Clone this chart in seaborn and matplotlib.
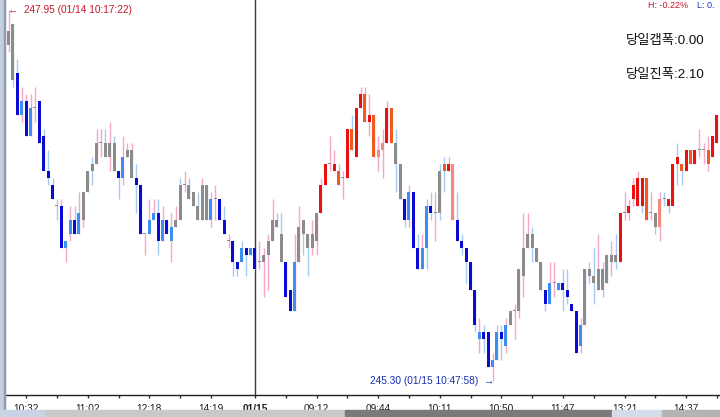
import matplotlib
matplotlib.use("Agg")

import matplotlib.pyplot as plt
from matplotlib.patches import Rectangle
import seaborn as sns
import pandas as pd
import numpy as np

# ---------------------------------------------------------------------------
# Dados (candles de 1 minuto agregados, dois pregões)
# ---------------------------------------------------------------------------
opens = [
    247.80, 247.85, 247.50, 247.30, 247.30, 247.25, 247.25, 247.30, 247.05, 246.80,
    246.70, 246.55, 246.55, 246.30, 246.45, 246.45, 246.50, 246.45, 246.65, 246.80,
    246.85, 247.00, 246.90, 246.90, 247.00, 246.80, 246.90, 246.90, 246.95, 246.75,
    246.70, 246.35, 246.45, 246.50, 246.50, 246.45, 246.45, 246.40, 246.40, 246.45,
    246.70, 246.70, 246.65, 246.55, 246.45, 246.70, 246.60, 246.60, 246.60, 246.45,
    246.30, 246.30, 246.15, 246.25, 246.25, 246.25, 246.25, 246.15, 246.15, 246.20,
    246.30, 246.40, 246.35, 246.15, 245.95, 246.15, 246.15, 246.35, 246.35, 246.25,
    246.30, 246.50, 246.70, 246.85, 246.80, 246.70, 246.75, 246.75, 247.10, 246.90,
    247.25, 247.35, 247.15, 247.20, 246.95, 246.95, 247.00, 247.25, 247.00, 246.85,
    246.60, 246.65, 246.65, 246.25, 246.25, 246.55, 246.55, 246.50, 246.50, 246.80,
    246.80, 246.85, 246.45, 246.30, 246.25, 246.15, 245.95, 245.65, 245.65, 245.65,
    245.45, 245.65, 245.65, 245.70, 245.70, 245.80, 245.80, 246.05, 246.25, 246.35,
    246.25, 246.15, 245.95, 246.00, 246.00, 246.00, 246.00, 245.95, 245.85, 245.80,
    245.70, 245.70, 246.10, 246.05, 245.95, 246.10, 246.00, 246.20, 246.15, 246.15,
    246.50, 246.50, 246.60, 246.55, 246.55, 246.75, 246.50, 246.50, 246.60, 246.60,
    246.55, 246.55, 246.85, 246.85, 246.80, 246.95, 246.85, 246.95, 246.95, 246.95,
    246.90, 247.00,
]
highs = [
    247.95, 247.85, 247.60, 247.40, 247.35, 247.35, 247.40, 247.30, 247.10, 246.95,
    246.75, 246.60, 246.60, 246.30, 246.55, 246.55, 246.65, 246.65, 246.80, 246.90,
    247.10, 247.10, 247.10, 247.15, 247.05, 246.80, 247.05, 247.00, 247.00, 246.85,
    246.70, 246.35, 246.60, 246.60, 246.60, 246.55, 246.45, 246.50, 246.55, 246.75,
    246.80, 246.75, 246.65, 246.65, 246.75, 246.70, 246.65, 246.70, 246.60, 246.55,
    246.35, 246.30, 246.15, 246.30, 246.25, 246.25, 246.25, 246.30, 246.25, 246.35,
    246.60, 246.50, 246.50, 246.15, 245.95, 246.35, 246.55, 246.45, 246.35, 246.45,
    246.50, 246.75, 246.85, 247.05, 246.95, 246.85, 246.80, 247.10, 247.20, 247.25,
    247.40, 247.40, 247.35, 247.20, 247.05, 247.10, 247.30, 247.25, 247.10, 246.85,
    246.60, 246.70, 246.65, 246.35, 246.35, 246.60, 246.65, 246.65, 246.85, 246.90,
    246.90, 246.85, 246.65, 246.35, 246.25, 246.15, 245.95, 245.75, 245.70, 245.65,
    245.50, 245.70, 245.70, 245.75, 245.80, 245.85, 246.10, 246.50, 246.50, 246.40,
    246.25, 246.15, 245.95, 246.15, 246.15, 246.00, 246.10, 246.10, 245.85, 245.80,
    245.75, 246.10, 246.15, 246.25, 246.35, 246.15, 246.20, 246.30, 246.35, 246.50,
    246.65, 246.60, 246.75, 246.80, 246.75, 246.75, 246.65, 246.50, 246.65, 246.65,
    246.60, 246.85, 247.00, 246.85, 246.95, 246.95, 246.95, 247.10, 247.00, 247.05,
    247.05, 247.20,
]
lows = [
    247.65, 247.40, 247.20, 247.15, 247.05, 247.05, 247.15, 247.00, 246.80, 246.70,
    246.60, 246.45, 246.25, 246.15, 246.30, 246.35, 246.35, 246.40, 246.65, 246.70,
    246.85, 246.90, 246.90, 246.80, 246.80, 246.60, 246.70, 246.90, 246.75, 246.50,
    246.35, 246.20, 246.35, 246.45, 246.20, 246.30, 246.35, 246.15, 246.40, 246.45,
    246.65, 246.60, 246.55, 246.45, 246.45, 246.45, 246.40, 246.45, 246.45, 246.35,
    246.25, 246.05, 246.05, 246.15, 246.05, 246.20, 246.10, 246.10, 245.90, 245.95,
    246.30, 246.40, 246.15, 245.90, 245.80, 245.80, 246.15, 246.20, 246.05, 246.20,
    246.20, 246.50, 246.70, 246.80, 246.80, 246.70, 246.60, 246.75, 246.95, 246.90,
    247.25, 247.15, 247.05, 246.90, 246.80, 246.75, 247.00, 247.00, 246.65, 246.60,
    246.40, 246.40, 246.25, 246.10, 246.10, 246.10, 246.45, 246.30, 246.45, 246.65,
    246.80, 246.45, 246.30, 246.20, 246.00, 245.95, 245.65, 245.50, 245.50, 245.40,
    245.30, 245.45, 245.45, 245.50, 245.70, 245.60, 245.75, 245.90, 246.25, 246.15,
    246.15, 245.95, 245.80, 245.85, 245.90, 245.95, 245.80, 245.85, 245.80, 245.50,
    245.50, 245.70, 246.00, 245.85, 245.95, 245.90, 246.00, 246.05, 246.10, 246.15,
    246.45, 246.45, 246.55, 246.55, 246.50, 246.45, 246.45, 246.35, 246.30, 246.55,
    246.50, 246.55, 246.70, 246.70, 246.80, 246.85, 246.85, 246.90, 246.85, 246.80,
    246.90, 247.00,
]
closes = [
    247.70, 247.45, 247.20, 247.20, 247.05, 247.05, 247.25, 247.00, 246.80, 246.75,
    246.60, 246.55, 246.25, 246.25, 246.35, 246.35, 246.35, 246.65, 246.80, 246.85,
    247.00, 247.00, 247.00, 247.00, 246.80, 246.75, 246.75, 246.95, 246.75, 246.70,
    246.35, 246.35, 246.35, 246.45, 246.30, 246.30, 246.35, 246.30, 246.45, 246.70,
    246.70, 246.60, 246.55, 246.45, 246.70, 246.45, 246.45, 246.60, 246.45, 246.35,
    246.30, 246.15, 246.10, 246.15, 246.20, 246.20, 246.10, 246.15, 246.20, 246.30,
    246.45, 246.45, 246.15, 245.90, 245.80, 245.80, 246.40, 246.45, 246.25, 246.35,
    246.50, 246.70, 246.85, 246.85, 246.85, 246.80, 246.75, 247.10, 246.95, 247.25,
    247.35, 247.15, 247.20, 246.90, 246.90, 247.00, 247.25, 247.00, 246.85, 246.60,
    246.45, 246.45, 246.25, 246.10, 246.10, 246.25, 246.50, 246.50, 246.80, 246.85,
    246.85, 246.45, 246.30, 246.25, 246.15, 245.95, 245.70, 245.60, 245.60, 245.40,
    245.40, 245.45, 245.60, 245.55, 245.80, 245.80, 246.10, 246.25, 246.35, 246.25,
    246.15, 245.95, 245.85, 245.85, 246.00, 245.95, 245.95, 245.90, 245.80, 245.50,
    245.55, 246.10, 246.05, 246.00, 246.10, 245.95, 246.20, 246.15, 246.20, 246.50,
    246.50, 246.55, 246.70, 246.75, 246.75, 246.45, 246.50, 246.40, 246.40, 246.60,
    246.60, 246.85, 246.90, 246.80, 246.95, 246.85, 246.95, 246.95, 246.95, 246.85,
    247.05, 247.20,
]
# cor do corpo: D azul escuro, B azul claro, G cinza, R vermelho, O laranja, S salmão
body_codes = (
    "GGDBDBGDDD" "DGDBBDBGGG" "GGGGGDBGGD" "DGBBDBDBGG" "GGGGGGBGDD"
    "GDDBDBDGGG" "GGGDDBGGGG" "GRRGROGROR" "ROROSSROGG" "DBDDBBDGGO"
    "RSDDDDDBDD" "BBDBGGGGGG" "GGDBGBDDDD" "BGGGGGGGGR" "GRRRROGGSG"
    "RRRORORGGO" "RR"
)
# cor do pavio: P rosa, L azul claro
wick_codes = (
    "PLLPPPPLLL" "LLPPPLPPLL" "PPLPLLPPPL" "LPPPLPLPPL" "PLLLPLPPLL"
    "PLLLLLLPPP" "PLLLLPPLLP" "PPPPPLPPLP" "PPPPPPPPLL" "LPLLPLLPLL"
    "PPLLLLLPLL" "PLLPLPPPPL" "LLLPPLLLLL" "PLLLPLLPLL" "PPPPLLPLPL"
    "LPLLPPPPPP" "PL"
)

tick_pos = [4, 18, 32, 46, 56, 70, 84, 98, 112, 126, 140, 154]
tick_labels = ["10:32", "11:02", "12:18", "14:19", "01/15", "09:12",
               "09:44", "10:11", "10:50", "11:47", "13:21", "14:37"]
minor_pos = [11, 25, 39, 63, 77, 91, 105, 119, 133, 147, 161]
day_break = 56

high_text = "←  247.95 (01/14 10:17:22)"
low_text = "245.30 (01/15 10:47:58)  →"
gap_text = "당일갭폭:0.00"
range_text = "당일진폭:2.10"

BODY_COLORS = {"D": "#0a0ad2", "B": "#3b8ff0", "G": "#8c8c8c",
               "R": "#e81010", "O": "#f05a1e", "S": "#f28a80"}
WICK_COLORS = {"P": "#f4a8c8", "L": "#a6cbf2"}

# ---------------------------------------------------------------------------
# Figura
# ---------------------------------------------------------------------------
sns.set_theme(style="white")
plt.rcParams["font.family"] = ["Liberation Sans", "Noto Sans CJK KR", "DejaVu Sans"]

df = pd.DataFrame({"open": opens, "high": highs, "low": lows, "close": closes,
                   "body": list(body_codes), "wick": list(wick_codes)})
df["x"] = np.arange(len(df))
df["bottom"] = df[["open", "close"]].min(axis=1)
df["height"] = (df["close"] - df["open"]).abs().clip(lower=0.008)

W, H = 720, 417
fig = plt.figure(figsize=(W / 100, H / 100), dpi=100)
ax = fig.add_axes([6 / W, 22 / H, 1 - 6 / W, 1 - 22 / H])

ax.vlines(df["x"], df["low"], df["high"],
          colors=[WICK_COLORS[c] for c in df["wick"]], linewidth=1.0, zorder=1)
ax.bar(df["x"], df["height"], bottom=df["bottom"], width=0.7,
       color=[BODY_COLORS[c] for c in df["body"]], linewidth=0, zorder=2)

ax.axvline(day_break, color="#3a3a3a", linewidth=1.0, zorder=0)

ax.set_xlim(-0.57, 161.7)
ax.set_ylim(245.20, 248.021)
ax.set_yticks([])
ax.set_xticks(tick_pos)
ax.set_xticklabels(tick_labels, fontsize=7.3, color="#202020")
ax.set_xticks(minor_pos, minor=True)
ax.tick_params(axis="x", which="both", direction="out", length=2.5, width=1,
               color="#303030", pad=4, bottom=True)
for lab in ax.get_xticklabels():
    if lab.get_text() == "01/15":
        lab.set_fontweight("bold")

sns.despine(ax=ax, left=True, right=True, top=True)
ax.spines["bottom"].set_color("#202020")
ax.spines["bottom"].set_linewidth(1.0)

# anotações de máxima e mínima
ax.text(-0.12, 247.95, high_text, fontsize=7.3, color="#c0182a",
        ha="left", va="center")
ax.text(110.3, 245.30, low_text, fontsize=7.3, color="#1830b0",
        ha="right", va="center")

fig.text(626 / W, 1 - 41 / H, gap_text, fontsize=9.6, color="#101010", va="center")
fig.text(626 / W, 1 - 75 / H, range_text, fontsize=9.6, color="#101010", va="center")
fig.text(648 / W, 1 - 6 / H, "H: -0.22%", fontsize=6.5, color="#c0182a", va="center")
fig.text(697 / W, 1 - 6 / H, "L: 0.", fontsize=6.5, color="#1830b0", va="center")

# moldura esquerda e barra de rolagem
fig.patches.append(Rectangle((0, 0), 5 / W, 1, transform=fig.transFigure,
                             color="#c4cfe0", zorder=0))
fig.patches.append(Rectangle((4 / W, 0), 1.2 / W, 1, transform=fig.transFigure,
                             color="#8e9bb2", zorder=0))
for x0, x1, col in [(0, 45, "#c8d4e6"), (45, 345, "#c9c9c9"),
                    (345, 612, "#7a7a7a"), (612, 662, "#d4dcea"),
                    (662, 720, "#b4b4b4")]:
    fig.patches.append(Rectangle((x0 / W, 0), (x1 - x0) / W, 7 / H,
                                 transform=fig.transFigure, color=col, zorder=0))

fig.savefig("out.png", dpi=100)
plt.close(fig)
